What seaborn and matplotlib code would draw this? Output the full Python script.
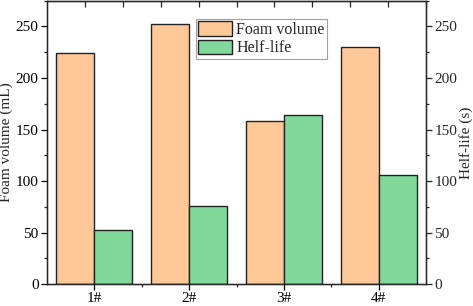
import pandas as pd
import matplotlib
matplotlib.use("Agg")
import matplotlib.pyplot as plt
import seaborn as sns
from matplotlib.ticker import MultipleLocator, FixedLocator

# --- data ---
samples = ["1#", "2#", "3#", "4#"]
foam_volume = [224, 252, 158, 230]   # mL
half_life = [53, 76, 164, 106]       # s

df = pd.DataFrame({
    "sample": samples * 2,
    "value": foam_volume + half_life,
    "series": ["Foam volume"] * 4 + ["Helf-life"] * 4,
})

sns.set_style("ticks")
plt.rcParams["font.family"] = ["Liberation Serif", "DejaVu Serif"]
fs = 11

fig = plt.figure(figsize=(4.73, 3.06), dpi=100)
ax = fig.add_axes([0.0994, 0.071, 0.8012, 0.927])

sns.barplot(
    data=df, x="sample", y="value", hue="series",
    palette=["#FFC896", "#80D99A"], edgecolor="#222222", linewidth=1.0,
    saturation=1, width=0.8, ax=ax,
)

ax.set_xlim(-0.5, 3.5)
ax.set_ylim(0, 275)
ax.set_xlabel("")
ax.set_ylabel("Foam volume (mL)", fontsize=fs, labelpad=2)
ax.yaxis.set_major_locator(MultipleLocator(50))
ax.yaxis.set_minor_locator(MultipleLocator(25))
ax.xaxis.set_minor_locator(FixedLocator([0.5, 1.5, 2.5]))
ax.tick_params(axis="both", which="major", direction="out", length=4, width=0.9,
               labelsize=fs, colors="black")
ax.tick_params(axis="both", which="minor", direction="out", length=2.5, width=0.9)
ax.tick_params(axis="x", pad=1.5)
ax.tick_params(axis="y", pad=2)
for s in ax.spines.values():
    s.set_visible(True)
    s.set_linewidth(1.0)
    s.set_color("black")

# top axis ticks
top = ax.secondary_xaxis("top")
top.xaxis.set_major_locator(FixedLocator([-0.1 + 0.4 * k for k in range(10)]))
top.tick_params(direction="in", length=4, width=0.9, labeltop=False)

# right axis with the same scale
ax2 = ax.twinx()
ax2.set_ylim(0, 275)
ax2.yaxis.set_major_locator(MultipleLocator(50))
ax2.yaxis.set_minor_locator(MultipleLocator(25))
ax2.tick_params(which="major", direction="out", length=4, width=0.9, labelsize=fs, pad=2)
ax2.tick_params(which="minor", direction="out", length=2.5, width=0.9)
ax2.set_ylabel("Helf-life (s)", fontsize=fs, labelpad=1)

leg = ax.legend(loc="upper left", bbox_to_anchor=(0.392, 0.935), frameon=True,
                fancybox=False, edgecolor="#888888", fontsize=11.5,
                handlelength=2.1, handleheight=1.0, handletextpad=0.3,
                labelspacing=0.1, borderpad=0.15, borderaxespad=0)
leg.get_frame().set_linewidth(0.8)

plt.savefig("out.png", dpi=100)
